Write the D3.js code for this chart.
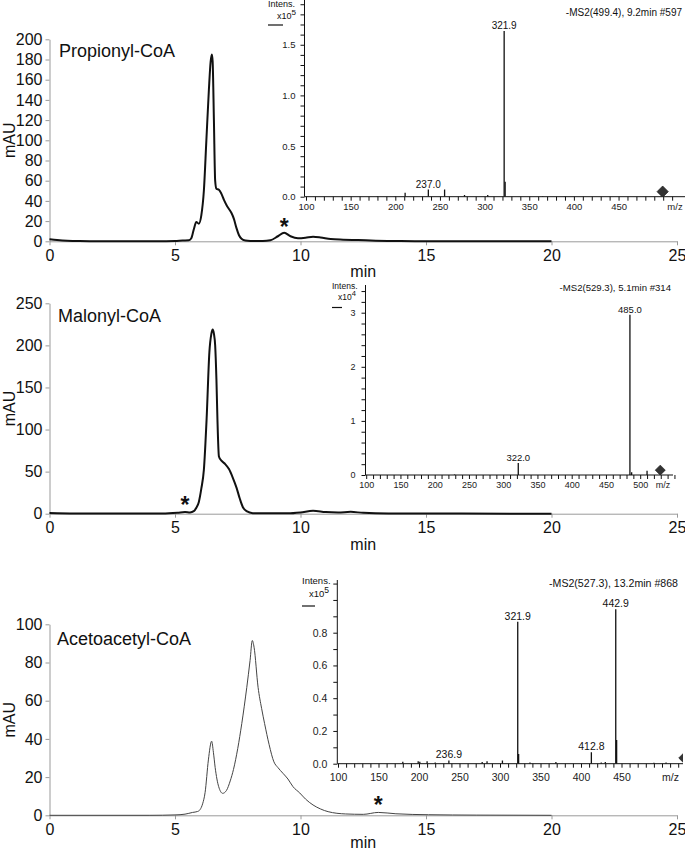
<!DOCTYPE html>
<html><head><meta charset="utf-8">
<script src="https://cdn.jsdelivr.net/npm/d3@7/dist/d3.min.js"></script>
<style>body{margin:0;background:#fff}</style>
</head><body><svg id="c" width="685" height="850"></svg>
<script>
// ---------- DATA ----------
const timeTicks = [0, 5, 10, 15, 20, 25];
const chromTitles = ["Propionyl-CoA", "Malonyl-CoA", "Acetoacetyl-CoA"];

const propTime = [0,0.3,0.7,1.2,2,3,4,5,5.3,5.55,5.65,5.75,5.85,5.95,6.05,6.15,6.25,6.35,6.42,6.47,6.5,6.55,6.6,6.65,6.75,6.85,6.95,7.05,7.15,7.25,7.35,7.45,7.55,7.65,7.8,8.0,8.5,8.8,9.1,9.35,9.6,9.9,10.2,10.5,10.8,11.2,11.7,12.3,13,14,15,17,20];
const propMAU  = [2,1.3,0.6,0.2,0,0,0.1,0.4,0.8,1,3,12,19,17.5,26,50,100,150,178,185,178,120,60,52,51,47,41,36,32,28,22,13,6,2.5,0.8,0.3,0.2,1,5,8.5,5,3,3.5,4.5,3.8,2.2,1.6,1.2,0.6,0.2,0.1,0.1,0];
const propYTicks = [0,20,40,60,80,100,120,140,160,180,200];

const malTime = [0,1,3,4.5,5.1,5.4,5.6,5.75,5.85,5.95,6.05,6.15,6.26,6.37,6.45,6.5,6.55,6.6,6.65,6.69,6.75,6.85,7.0,7.15,7.3,7.45,7.58,7.7,7.85,8.1,8.5,9.5,10.0,10.5,11.0,11.5,12.0,12.5,13.5,20];
const malMAU  = [0.8,0.3,0.2,0.3,1.2,2,1.5,3,7,14,30,52,113,192,214,219,214,200,160,113,68,63,59,53,43,31,18,8,3,0.6,0.5,0.5,1.5,3.5,2,1.5,2.2,1,0.3,0];
const malYTicks = [0,50,100,150,200,250];

const acetTime = [0,4,5.0,5.4,5.7,5.9,6.0,6.1,6.2,6.33,6.46,6.53,6.6,6.74,6.9,7.05,7.2,7.33,7.5,7.66,7.86,7.99,8.08,8.15,8.31,8.45,8.57,8.75,8.94,9.1,9.3,9.5,9.7,9.97,10.2,10.5,10.8,11.1,11.8,12.5,13.1,13.8,15.1,17,20];
const acetMAU  = [0,0,0.2,0.6,1.5,2,3,6,12,29,38.8,33,25,15,11.5,13,18,24,35,48,67,81,91.5,88,67,56,48,37,28,25,22,19,15,11.7,8.5,5.4,3.3,1.9,0.7,0.5,1.5,0.8,0.3,0.1,0];
const acetYTicks = [0,20,40,60,80,100];

const starTime = [9.35, 5.4, 13.1];
const starMAU  = [8.5, 2, 1.5];

// MS2 spectra
const ms1Title = "-MS2(499.4), 9.2min #597";
const ms1Exp = "5";
const ms1Mz  = [180, 200, 211, 237.0, 255.2, 277.5, 303.5, 321.9, 323.0, 365, 390];
const ms1Int = [0.005, 0.005, 0.04, 0.07, 0.07, 0.017, 0.017, 1.636, 0.148, 0.005, 0.005];
const ms1LabelMz = [237.0, 321.9];
const ms1Prec = [499.4, 0.05];
const ms1YLabels = [0.0, 0.5, 1.0, 1.5];
const ms1XLabels = [100,150,200,250,300,350,400,450];

const ms2Title = "-MS2(529.3), 5.1min #314";
const ms2Exp = "4";
const ms2Mz  = [229, 322.0, 485.0, 487.5, 510];
const ms2Int = [0.01, 0.22, 2.96, 0.05, 0.08];
const ms2LabelMz = [322.0, 485.0];
const ms2Prec = [529.3, 0.09];
const ms2YLabels = [0, 1, 2, 3];
const ms2XLabels = [100,150,200,250,300,350,400,450,500];

const ms3Title = "-MS2(527.3), 13.2min #868";
const ms3Exp = "5";
const ms3Mz  = [180, 199, 201, 210, 220, 236.9, 278, 284, 303, 321.9, 323.0, 337, 369, 412.8, 425, 430, 442.9, 444.0, 490, 505];
const ms3Int = [0.012, 0.015, 0.012, 0.015, 0.008, 0.02, 0.01, 0.015, 0.02, 0.867, 0.06, 0.008, 0.01, 0.07, 0.008, 0.01, 0.943, 0.145, 0.006, 0.008];
const ms3LabelMz = [236.9, 321.9, 412.8, 442.9];
const ms3Prec = [527.3, 0.035];
const ms3YLabels = [0.0, 0.2, 0.4, 0.6, 0.8];
const ms3XLabels = [100,150,200,250,300,350,400,450];

// ---------- DRAW ----------
const FONT = "'Liberation Sans', Arial, Helvetica, sans-serif";
const svg = d3.select("#c");

function chrom(c) {
  const x = d3.scaleLinear().domain([0, 25]).range([49.5, 677]);
  const y = d3.scaleLinear().domain([0, c.yMax]).range([c.y0, c.yTop]);
  const g = svg.append("g");
  const xa = g.append("g").attr("transform", `translate(0,${c.y0})`)
    .call(d3.axisBottom(x).tickValues(timeTicks).tickSize(4).tickPadding(4).tickSizeOuter(0));
  const ya = g.append("g").attr("transform", `translate(49.5,0)`)
    .call(d3.axisLeft(y).tickValues(c.yTicks).tickSize(4).tickPadding(3).tickSizeOuter(0));
  [xa, ya].forEach(a => {
    a.attr("font-family", FONT).attr("font-size", 16);
    a.selectAll("path,line").attr("stroke", "#9a9a9a");
    a.selectAll("text").attr("fill", "#111");
  });
  g.append("text").attr("x", x(12.5)).attr("y", Math.min(c.y0 + 36, 848)).attr("text-anchor", "middle")
    .attr("font-family", FONT).attr("font-size", 16).attr("fill", "#111").text("min");
  g.append("text").attr("transform", `translate(15,${(c.y0 + c.yTop) / 2}) rotate(-90)`)
    .attr("text-anchor", "middle").attr("font-family", FONT).attr("font-size", 16).attr("fill", "#111").text("mAU");
  g.append("text").attr("x", c.titleX).attr("y", c.titleY).attr("font-family", FONT)
    .attr("font-size", 18).attr("fill", "#111").text(c.title);
  const data = c.t.map((t, i) => [t, c.v[i]]);
  g.append("path").datum(data)
    .attr("d", d3.line().x(d => x(d[0])).y(d => y(d[1])).curve(d3.curveMonotoneX))
    .attr("fill", "none").attr("stroke", c.color).attr("stroke-width", c.lw).attr("stroke-linejoin", "round");
  g.append("text").attr("x", x(c.star[0])).attr("y", y(c.star[1]) + c.starDrop)
    .attr("text-anchor", "middle").attr("font-family", FONT).attr("font-weight", "bold")
    .attr("font-size", 23).attr("fill", "#111").text("*");
}

chrom({yMax: 200, y0: 241.3, yTop: 39.3, yTicks: propYTicks, t: propTime, v: propMAU,
  title: chromTitles[0], titleX: 59, titleY: 57, color: "#111", lw: 2, star: [starTime[0], starMAU[0]], starDrop: 2});
chrom({yMax: 250, y0: 513.7, yTop: 303.3, yTicks: malYTicks, t: malTime, v: malMAU,
  title: chromTitles[1], titleX: 58, titleY: 321.5, color: "#111", lw: 2, star: [starTime[1], starMAU[1]], starDrop: 1});
chrom({yMax: 100, y0: 815.3, yTop: 624.3, yTicks: acetYTicks, t: acetTime, v: acetMAU,
  title: chromTitles[2], titleX: 57, titleY: 645, color: "#444", lw: 1, star: [starTime[2], starMAU[2]], starDrop: 1});

function inset(c, id) {
  const x = d3.scaleLinear().domain([100, 500]).range([c.px100, c.px100 + 400 * c.ppu]);
  const y = d3.scaleLinear().domain([0, 1]).range([c.base, c.base - c.ppi]);
  const g = svg.append("g");
  const fmtY = d3.format(c.yFmt);
  const xt = d3.range(10, c.xMaxTick / 10 + 1).map(i => i * 10);
  const xa = g.append("g").attr("transform", `translate(0,${c.base})`)
    .call(d3.axisBottom(x).tickValues(xt).tickSize(4).tickPadding(c.xPad)
      .tickFormat(d => c.xLabels.includes(d) ? d : ""));
  xa.select(".domain").remove();
  g.append("line").attr("x1", c.axisX).attr("x2", c.xEnd).attr("y1", c.base).attr("y2", c.base)
    .attr("stroke", "#111").attr("stroke-width", 1);
  const nY = Math.round(c.yTopVal / c.yMinor);
  const yt = d3.range(0, nY + 1).map(i => +(i * c.yMinor).toFixed(3));
  const ya = g.append("g").attr("transform", `translate(${c.axisX},0)`)
    .call(d3.axisLeft(y).tickValues(yt).tickSize(4).tickPadding(c.yPad)
      .tickFormat(d => c.yLabels.some(v => Math.abs(v - d) < 1e-6) ? fmtY(d) : ""));
  ya.select(".domain").remove();
  g.append("line").attr("x1", c.axisX).attr("x2", c.axisX).attr("y1", c.base).attr("y2", c.topPx)
    .attr("stroke", "#111").attr("stroke-width", 1);
  [xa, ya].forEach(a => {
    a.attr("font-family", FONT).attr("font-size", c.tickFont);
    a.selectAll("line").attr("stroke", "#111");
    a.selectAll("text").attr("fill", "#222");
  });
  g.append("text").attr("x", c.mzX).attr("y", c.base + c.xPad + 4 + c.tickFont * 0.71).attr("text-anchor", "middle")
    .attr("font-family", FONT).attr("font-size", c.tickFont).attr("fill", "#222").text("m/z");
  svg.append("clipPath").attr("id", id).append("rect")
    .attr("x", c.axisX).attr("y", c.topPx - 20).attr("width", c.xEnd - c.axisX).attr("height", c.base - c.topPx + 20);
  const pg = g.append("g").attr("clip-path", `url(#${id})`);
  const peaks = c.mz.map((m, i) => [m, c.int[i]]);
  pg.selectAll("line.pk").data(peaks).join("line").attr("class", "pk")
    .attr("x1", d => x(d[0])).attr("x2", d => x(d[0])).attr("y1", y(0)).attr("y2", d => y(d[1]))
    .attr("stroke", "#111").attr("stroke-width", 1.3);
  pg.append("path").attr("d", d3.symbol(d3.symbolSquare, c.diaSize)())
    .attr("transform", `translate(${x(c.prec[0])},${y(c.prec[1])}) rotate(45)`)
    .attr("fill", "#333").attr("stroke", "#111").attr("stroke-width", 0.6);
  const lab = c.labels.map(m => peaks.find(p => p[0] === m));
  g.selectAll("text.pl").data(lab).join("text").attr("class", "pl")
    .attr("x", d => x(d[0])).attr("y", d => y(d[1]) - 2).attr("text-anchor", "middle")
    .attr("font-family", FONT).attr("font-size", c.labFont).attr("fill", "#111")
    .text(d => d3.format(".1f")(d[0]));
  g.append("text").attr("x", c.titleX).attr("y", c.titleY).attr("text-anchor", "end")
    .attr("font-family", FONT).attr("font-size", c.titleFont).attr("fill", "#111").text(c.title);
  g.append("text").attr("x", c.intX).attr("y", c.intY).attr("font-family", FONT)
    .attr("font-size", c.smallFont).attr("fill", "#111").text("Intens.");
  const e = g.append("text").attr("x", c.expX).attr("y", c.intY + c.smallFont * 1.35).attr("font-family", FONT)
    .attr("font-size", c.smallFont).attr("fill", "#111").text("x10");
  e.append("tspan").attr("dy", -4).attr("font-size", c.smallFont * 0.9).text(c.exp);
  g.append("line").attr("x1", c.intX).attr("x2", c.intX + c.dashW).attr("y1", c.dashY).attr("y2", c.dashY)
    .attr("stroke", "#111").attr("stroke-width", 1.2);
}

inset({px100: 306, ppu: 0.893, base: 196.7, ppi: 101.3, axisX: 304.5, xEnd: 685, topPx: -2, yTopVal: 1.9, yMinor: 0.1,
  yLabels: ms1YLabels, xLabels: ms1XLabels, yFmt: ".1f", xMaxTick: 510, xPad: 3, yPad: 5, tickFont: 9.5,
  mzX: 675, mz: ms1Mz, int: ms1Int, prec: ms1Prec, labels: ms1LabelMz, labFont: 10, diaSize: 64,
  title: ms1Title, titleX: 682, titleY: 16, titleFont: 10, intX: 268, intY: 7, expX: 277, exp: ms1Exp,
  smallFont: 9, dashY: 25, dashW: 15}, "clip1");

inset({px100: 366.2, ppu: 0.685, base: 475, ppi: 54.1, axisX: 365.5, xEnd: 673, topPx: 285, yTopVal: 3.4, yMinor: 0.2,
  yLabels: ms2YLabels, xLabels: ms2XLabels, yFmt: "d", xMaxTick: 550, xPad: 3, yPad: 6, tickFont: 9,
  mzX: 663, mz: ms2Mz, int: ms2Int, prec: ms2Prec, labels: ms2LabelMz, labFont: 9.5, diaSize: 50,
  title: ms2Title, titleX: 671, titleY: 291, titleFont: 9.6, intX: 332, intY: 289, expX: 338, exp: ms2Exp,
  smallFont: 8.5, dashY: 307.5, dashW: 10}, "clip2");

inset({px100: 338, ppu: 0.81, base: 763.7, ppi: 163.75, axisX: 337.3, xEnd: 683, topPx: 580, yTopVal: 1.1, yMinor: 0.1,
  yLabels: ms3YLabels, xLabels: ms3XLabels, yFmt: ".1f", xMaxTick: 530, xPad: 6, yPad: 6, tickFont: 10.5,
  mzX: 670.5, mz: ms3Mz, int: ms3Int, prec: ms3Prec, labels: ms3LabelMz, labFont: 10.5, diaSize: 58,
  title: ms3Title, titleX: 678, titleY: 587, titleFont: 10.6, intX: 302, intY: 584, expX: 309, exp: ms3Exp,
  smallFont: 9.5, dashY: 606, dashW: 13}, "clip3");
</script>
</body></html>
